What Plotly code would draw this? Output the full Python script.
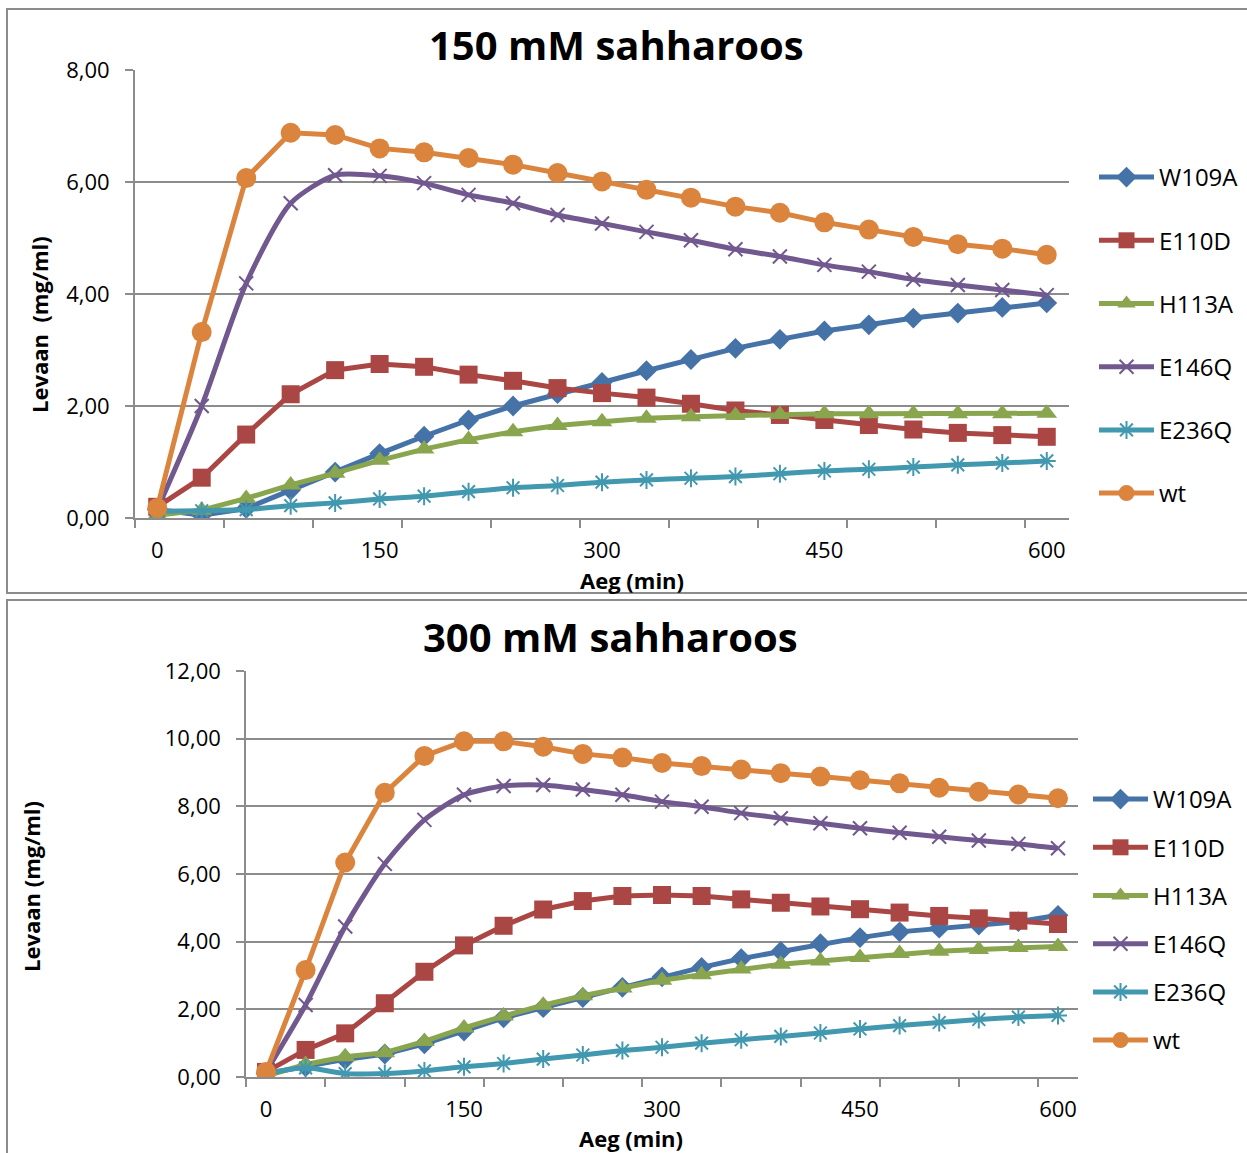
import plotly.graph_objects as go

# ---- data -------------------------------------------------------------
minutes = [0, 30, 60, 90, 120, 150, 180, 210, 240, 270, 300,
           330, 360, 390, 420, 450, 480, 510, 540, 570, 600]

series_names = ["W109A", "E110D", "H113A", "E146Q", "E236Q", "wt"]

# 150 mM sucrose (levaan, mg/ml)
s150_w109a = [0.15, 0.05, 0.17, 0.50, 0.82, 1.15, 1.46, 1.75, 2.00, 2.22, 2.42,
              2.63, 2.83, 3.03, 3.19, 3.34, 3.45, 3.57, 3.66, 3.76, 3.84]
s150_e110d = [0.20, 0.72, 1.49, 2.21, 2.64, 2.75, 2.70, 2.56, 2.45, 2.32, 2.23,
              2.15, 2.04, 1.92, 1.84, 1.75, 1.66, 1.58, 1.52, 1.48, 1.45]
s150_h113a = [0.05, 0.14, 0.35, 0.59, 0.80, 1.03, 1.23, 1.40, 1.54, 1.65, 1.72,
              1.78, 1.81, 1.83, 1.85, 1.86, 1.86, 1.86, 1.86, 1.86, 1.87]
s150_e146q = [0.15, 2.00, 4.19, 5.62, 6.12, 6.11, 5.98, 5.77, 5.62, 5.41, 5.26,
              5.11, 4.96, 4.80, 4.67, 4.52, 4.40, 4.26, 4.16, 4.07, 3.98]
s150_e236q = [0.12, 0.13, 0.15, 0.22, 0.27, 0.34, 0.39, 0.47, 0.54, 0.58, 0.64,
              0.68, 0.71, 0.74, 0.79, 0.84, 0.87, 0.91, 0.95, 0.98, 1.02]
s150_wt = [0.18, 3.32, 6.07, 6.88, 6.84, 6.60, 6.53, 6.43, 6.31, 6.16, 6.01,
           5.86, 5.72, 5.56, 5.45, 5.28, 5.15, 5.02, 4.89, 4.81, 4.70]

# 300 mM sucrose (levaan, mg/ml)
s300_w109a = [0.10, 0.30, 0.52, 0.68, 0.98, 1.36, 1.75, 2.05, 2.35, 2.65, 2.96,
              3.24, 3.50, 3.71, 3.94, 4.12, 4.29, 4.40, 4.49, 4.59, 4.78]
s300_e110d = [0.15, 0.80, 1.29, 2.18, 3.11, 3.89, 4.47, 4.95, 5.20, 5.35, 5.38,
              5.35, 5.25, 5.15, 5.04, 4.96, 4.86, 4.76, 4.69, 4.62, 4.52]
s300_h113a = [0.03, 0.37, 0.60, 0.72, 1.05, 1.45, 1.80, 2.12, 2.40, 2.63, 2.86,
              3.02, 3.19, 3.33, 3.43, 3.53, 3.65, 3.72, 3.77, 3.83, 3.86]
s300_e146q = [0.15, 2.13, 4.45, 6.30, 7.60, 8.34, 8.60, 8.63, 8.50, 8.34, 8.14,
              7.99, 7.80, 7.65, 7.50, 7.35, 7.22, 7.10, 6.99, 6.89, 6.76]
s300_e236q = [0.10, 0.27, 0.10, 0.10, 0.18, 0.30, 0.40, 0.53, 0.65, 0.78, 0.88,
              1.00, 1.10, 1.20, 1.30, 1.42, 1.52, 1.61, 1.70, 1.77, 1.82]
s300_wt = [0.15, 3.16, 6.34, 8.40, 9.49, 9.92, 9.92, 9.76, 9.55, 9.44, 9.28,
           9.19, 9.09, 8.98, 8.88, 8.77, 8.68, 8.55, 8.43, 8.35, 8.24]

x_tick_vals = [0, 150, 300, 450, 600]
x_tick_text = ["0", "150", "300", "450", "600"]
x_minor_ticks = [-15, 45, 105, 165, 225, 285, 345, 405, 465, 525, 585]

y150_tick_vals = [0, 2, 4, 6, 8]
y150_tick_text = ["0,00", "2,00", "4,00", "6,00", "8,00"]
y300_tick_vals = [0, 2, 4, 6, 8, 10, 12]
y300_tick_text = ["0,00", "2,00", "4,00", "6,00", "8,00", "10,00", "12,00"]

panels = [
    ("150 mM sahharoos", [s150_w109a, s150_e110d, s150_h113a, s150_e146q, s150_e236q, s150_wt]),
    ("300 mM sahharoos", [s300_w109a, s300_e110d, s300_h113a, s300_e146q, s300_e236q, s300_wt]),
]

# ---- styling ----------------------------------------------------------
W, H = 1247, 1153
FONT = "Open Sans"
GRID = "#8c8c8c"

colors = ["#4572A7", "#AA4643", "#89A54E", "#71588F", "#4198AF", "#DB843D"]
symbols = ["diamond", "square", "triangle-up", "x-thin", "asterisk", "circle"]
sizes = [16, 18, 18, 14, 15, 20]


def px(x):
    return x / W


def py(y):
    return 1 - y / H


fig = go.Figure()

# E146Q and E236Q are drawn as smoothed curves
smooth = [False, False, False, True, True, False]

for p, (title, data) in enumerate(panels):
    xa = "x" if p == 0 else "x2"
    ya = "y" if p == 0 else "y2"
    leg = "legend" if p == 0 else "legend2"
    for k, name in enumerate(series_names):
        line_only = symbols[k] in ("x-thin", "asterisk")
        marker = dict(symbol=symbols[k], size=sizes[k], color=colors[k])
        if line_only:
            marker["line"] = dict(color=colors[k], width=2)
        else:
            marker["line"] = dict(width=0)
        fig.add_trace(go.Scatter(
            x=minutes, y=data[k], name=name, mode="lines+markers",
            xaxis=xa, yaxis=ya, legend=leg, legendgroup=f"{p}-{name}",
            line=dict(color=colors[k], width=5,
                      shape="spline" if smooth[k] else "linear", smoothing=0.7),
            marker=marker,
        ))

axis_common = dict(showline=True, linecolor=GRID, linewidth=2, zeroline=False,
                   tickfont=dict(family=FONT, size=22, color="#000000"))

fig.update_layout(
    width=W, height=H,
    margin=dict(l=0, r=0, t=0, b=0, autoexpand=False),
    paper_bgcolor="white", plot_bgcolor="white",
    font=dict(family=FONT, color="#000000"),
    showlegend=True,
    xaxis=dict(domain=[px(135), px(1069)], range=[-15, 615], anchor="y",
               tickvals=x_tick_vals, ticktext=x_tick_text, ticks="",
               ticklabelstandoff=12, showgrid=False,
               minor=dict(tickvals=x_minor_ticks, ticks="outside", ticklen=8,
                          tickcolor=GRID, tickwidth=2, showgrid=False),
               **axis_common),
    yaxis=dict(domain=[py(518), py(70)], range=[0, 8], anchor="x",
               tickvals=y150_tick_vals, ticktext=y150_tick_text,
               ticks="outside", ticklen=8, tickcolor=GRID, tickwidth=2,
               ticklabelstandoff=11, showgrid=True, gridcolor=GRID, gridwidth=2,
               **axis_common),
    xaxis2=dict(domain=[px(246.2), px(1077.8)], range=[-15, 615], anchor="y2",
                tickvals=x_tick_vals, ticktext=x_tick_text, ticks="",
                ticklabelstandoff=12, showgrid=False,
                minor=dict(tickvals=x_minor_ticks, ticks="outside", ticklen=8,
                           tickcolor=GRID, tickwidth=2, showgrid=False),
                **axis_common),
    yaxis2=dict(domain=[py(1077), py(671)], range=[0, 12], anchor="x2",
                tickvals=y300_tick_vals, ticktext=y300_tick_text,
                ticks="outside", ticklen=8, tickcolor=GRID, tickwidth=2,
                ticklabelstandoff=11, showgrid=True, gridcolor=GRID, gridwidth=2,
                **axis_common),
    legend=dict(x=px(1094), y=py(155), xanchor="left", yanchor="top",
                font=dict(family=FONT, size=24), tracegroupgap=29,
                bgcolor="rgba(0,0,0,0)", itemwidth=55),
    legend2=dict(x=px(1088), y=py(777), xanchor="left", yanchor="top",
                 font=dict(family=FONT, size=24), tracegroupgap=14,
                 bgcolor="rgba(0,0,0,0)", itemwidth=55),
)

# panel frames
fig.add_shape(type="rect", xref="paper", yref="paper",
              x0=px(7), x1=px(1260), y0=py(593), y1=py(9),
              line=dict(color=GRID, width=2), fillcolor="rgba(0,0,0,0)", layer="below")
fig.add_shape(type="rect", xref="paper", yref="paper",
              x0=px(7), x1=px(1260), y0=py(1170), y1=py(600),
              line=dict(color=GRID, width=2), fillcolor="rgba(0,0,0,0)", layer="below")

# titles and axis labels
texts = [
    ("150 mM sahharoos", 616, 44, 40, 0),
    ("300 mM sahharoos", 610, 636, 40, 0),
    ("Aeg (min)", 632, 580, 22, 0),
    ("Aeg (min)", 631, 1138, 22, 0),
    ("Levaan\u00a0 (mg/ml)", 39, 325, 22, -90),
    ("Levaan (mg/ml)", 31, 887, 22, -90),
]
for txt, x, y, size, ang in texts:
    fig.add_annotation(text=f"<b>{txt}</b>", xref="paper", yref="paper",
                       x=px(x), y=py(y), xanchor="center", yanchor="middle",
                       showarrow=False, textangle=ang,
                       font=dict(family=FONT, size=size, color="#000000"))

fig.write_html("out.html")
